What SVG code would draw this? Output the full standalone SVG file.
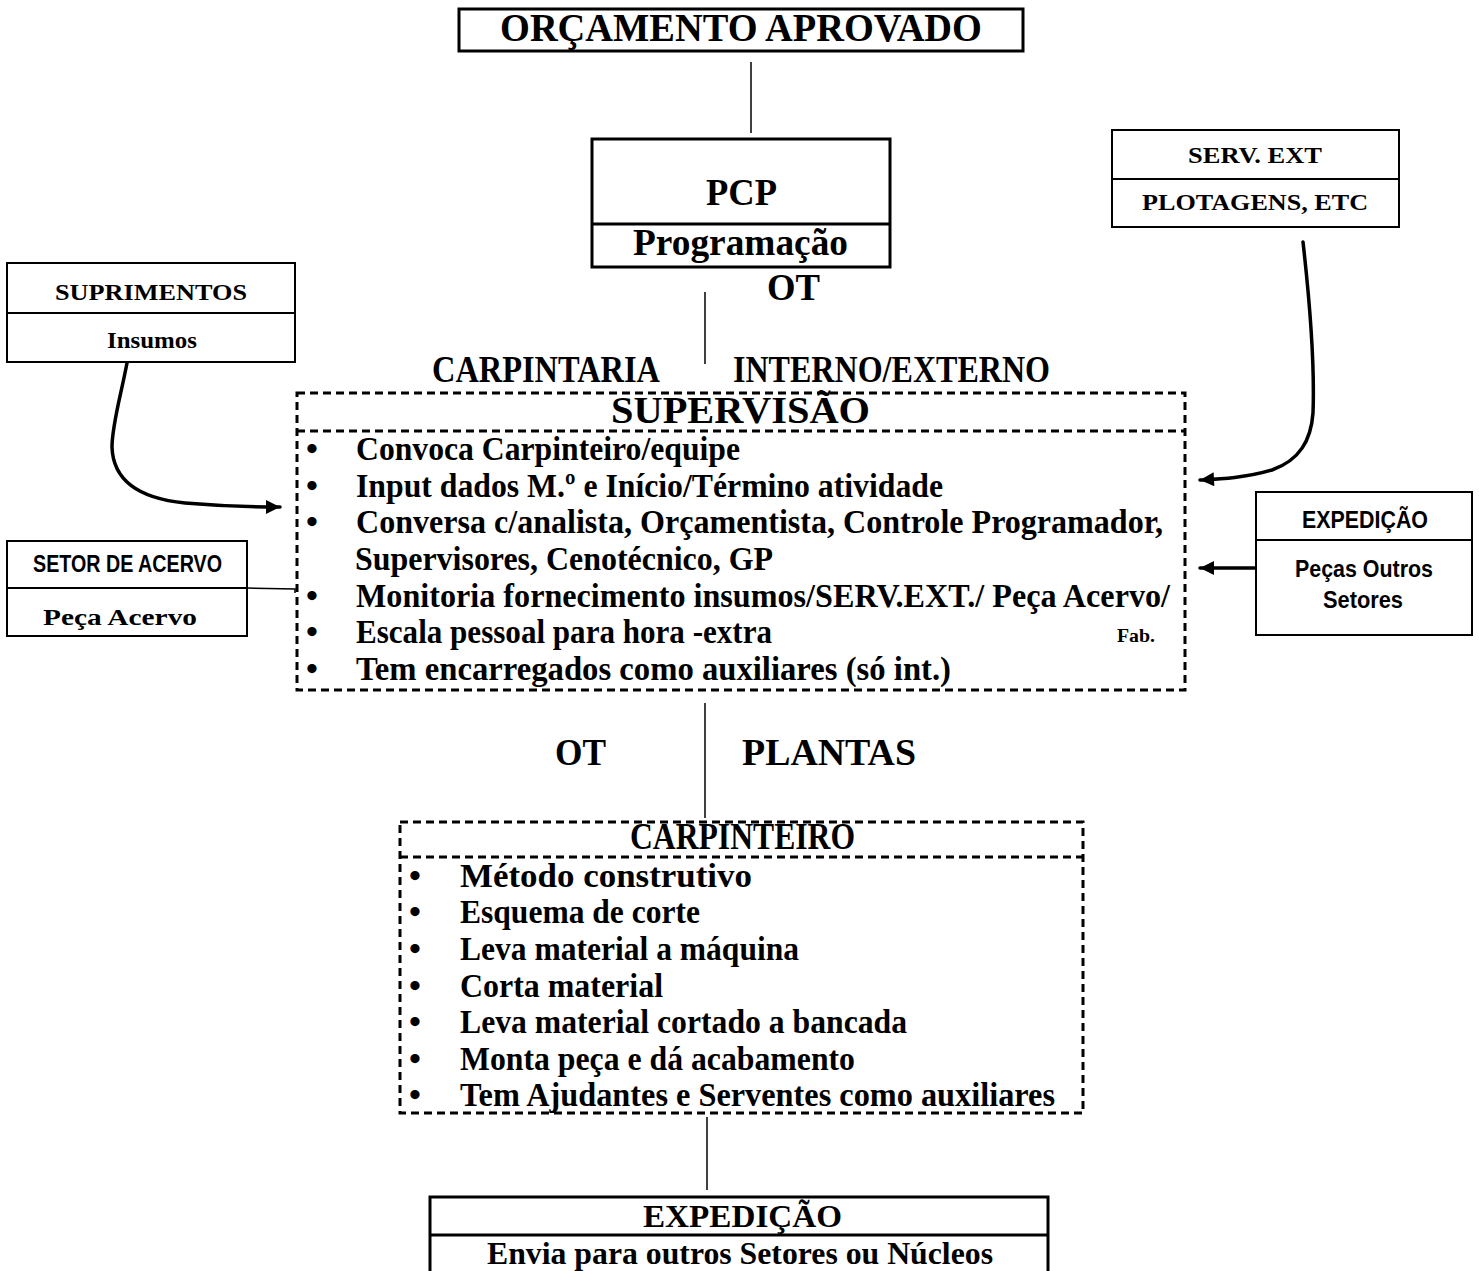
<svg xmlns="http://www.w3.org/2000/svg" width="1479" height="1271" viewBox="0 0 1479 1271">
  <style>
    .box { fill: #fff; stroke: #000; stroke-width: 3; }
    .thin { fill: #fff; stroke: #000; stroke-width: 2; }
    .div3 { stroke: #000; stroke-width: 3; }
    .div2 { stroke: #000; stroke-width: 2; }
    .dash { fill: none; stroke: #000; stroke-width: 3; stroke-dasharray: 8 5; }
    .link { fill: none; stroke: #000; stroke-width: 1.5; }
    .flow { fill: none; stroke: #000; stroke-width: 3.5; stroke-linecap: round; }
    .serif { font-family: "Liberation Serif", "Times New Roman", serif; font-weight: bold; fill: #000; }
    .sans { font-family: "Liberation Sans", Arial, sans-serif; font-weight: bold; fill: #000; }
    .h1 { font-size: 40px; }
    .h2 { font-size: 37px; }
    .h3 { font-size: 32px; }
    .item { font-size: 34px; }
    .small { font-size: 23px; }
    .tiny { font-size: 19px; }
  </style>
  <defs>
    <marker id="arrow" viewBox="0 0 10 10" refX="10" refY="5" markerWidth="5" markerHeight="4" markerUnits="strokeWidth" orient="auto">
      <path d="M0,0 L10,5 L0,10 z" fill="#000"/>
    </marker>
  </defs>

  <!-- connectors -->
  <g id="connectors">
    <line class="link" x1="751" y1="62" x2="751" y2="133"/>
    <line class="link" x1="705" y1="292" x2="705" y2="364"/>
    <line class="link" x1="705" y1="703" x2="705" y2="818"/>
    <line class="link" x1="707" y1="1117" x2="707" y2="1190"/>
    <path class="link" d="M247,588 L295,589 L295,593"/>
    <path class="flow" d="M127,363 C121,395 112,425 112,447 C113,478 135,498 185,503 C220,506 250,507 280,507" marker-end="url(#arrow)"/>
    <path class="flow" d="M1303,242 C1309,295 1315,360 1313,413 C1311,440 1300,460 1272,470 C1245,478 1220,479 1200,480" marker-end="url(#arrow)"/>
    <path class="flow" d="M1255,568 L1200,568" stroke-width="3" marker-end="url(#arrow)"/>
  </g>

  <!-- ORÇAMENTO APROVADO -->
  <g id="orcamento">
    <rect class="box" x="459" y="9" width="564" height="42"/>
    <text class="serif h1" x="500" y="41" textLength="482" lengthAdjust="spacingAndGlyphs">ORÇAMENTO APROVADO</text>
  </g>

  <!-- PCP -->
  <g id="pcp">
    <rect class="box" x="592" y="139" width="298" height="128"/>
    <line class="div3" x1="592" y1="224" x2="890" y2="224"/>
    <text class="serif h2" x="706" y="205" textLength="71" lengthAdjust="spacingAndGlyphs">PCP</text>
    <text class="serif h2" x="633" y="255" textLength="215" lengthAdjust="spacingAndGlyphs">Programação</text>
    <text class="serif h2" x="767" y="300" textLength="53" lengthAdjust="spacingAndGlyphs">OT</text>
  </g>

  <!-- SERV. EXT -->
  <g id="serv-ext">
    <rect class="thin" x="1112" y="130" width="287" height="97"/>
    <line class="div2" x1="1112" y1="179" x2="1399" y2="179"/>
    <text class="serif small" x="1188" y="163" textLength="134" lengthAdjust="spacingAndGlyphs">SERV. EXT</text>
    <text class="serif small" x="1142" y="210" textLength="226" lengthAdjust="spacingAndGlyphs">PLOTAGENS, ETC</text>
  </g>

  <!-- SUPRIMENTOS -->
  <g id="suprimentos">
    <rect class="thin" x="7" y="263" width="288" height="99"/>
    <line class="div2" x1="7" y1="313" x2="295" y2="313"/>
    <text class="serif small" x="55" y="300" textLength="192" lengthAdjust="spacingAndGlyphs">SUPRIMENTOS</text>
    <text class="serif small" x="107" y="348" textLength="90" lengthAdjust="spacingAndGlyphs">Insumos</text>
  </g>

  <!-- SETOR DE ACERVO -->
  <g id="setor-acervo">
    <rect class="thin" x="7" y="541" width="240" height="95"/>
    <line class="div2" x1="7" y1="588" x2="247" y2="588"/>
    <text class="sans small" x="33" y="572" textLength="189" lengthAdjust="spacingAndGlyphs">SETOR DE ACERVO</text>
    <text class="serif small" x="43" y="625" textLength="154" lengthAdjust="spacingAndGlyphs">Peça Acervo</text>
  </g>

  <!-- EXPEDIÇÃO (peças de outros setores) -->
  <g id="expedicao-pecas">
    <rect class="thin" x="1256" y="492" width="216" height="143"/>
    <line class="div2" x1="1256" y1="540" x2="1472" y2="540"/>
    <text class="sans small" x="1302" y="528" textLength="126" lengthAdjust="spacingAndGlyphs">EXPEDIÇÃO</text>
    <text class="sans small" x="1295" y="577" textLength="138" lengthAdjust="spacingAndGlyphs">Peças Outros</text>
    <text class="sans small" x="1323" y="608" textLength="80" lengthAdjust="spacingAndGlyphs">Setores</text>
  </g>

  <!-- SUPERVISÃO -->
  <g id="supervisao">
    <text class="serif h2" x="432" y="382" textLength="228" lengthAdjust="spacingAndGlyphs">CARPINTARIA</text>
    <text class="serif h2" x="733" y="382" textLength="317" lengthAdjust="spacingAndGlyphs">INTERNO/EXTERNO</text>
    <rect class="dash" x="297" y="393" width="888" height="297"/>
    <line class="dash" x1="297" y1="431" x2="1185" y2="431"/>
    <text class="serif h2" x="611" y="423" textLength="259" lengthAdjust="spacingAndGlyphs">SUPERVISÃO</text>
    <g class="serif item">
      <text x="306" y="460">•</text>
      <text x="356" y="460" textLength="384" lengthAdjust="spacingAndGlyphs">Convoca Carpinteiro/equipe</text>
      <text x="306" y="497">•</text>
      <text x="356" y="497" textLength="587" lengthAdjust="spacingAndGlyphs">Input dados M.º e Início/Término atividade</text>
      <text x="306" y="533">•</text>
      <text x="356" y="533" textLength="807" lengthAdjust="spacingAndGlyphs">Conversa c/analista, Orçamentista, Controle Programador,</text>
      <text x="355" y="570" textLength="418" lengthAdjust="spacingAndGlyphs">Supervisores, Cenotécnico, GP</text>
      <text x="306" y="607">•</text>
      <text x="356" y="607" textLength="814" lengthAdjust="spacingAndGlyphs">Monitoria fornecimento insumos/SERV.EXT./ Peça Acervo/</text>
      <text x="306" y="643">•</text>
      <text x="356" y="643" textLength="416" lengthAdjust="spacingAndGlyphs">Escala pessoal para hora -extra</text>
      <text x="306" y="680">•</text>
      <text x="356" y="680" textLength="595" lengthAdjust="spacingAndGlyphs">Tem encarregados como auxiliares (só int.)</text>
    </g>
    <text class="serif tiny" x="1117" y="642" textLength="38" lengthAdjust="spacingAndGlyphs">Fab.</text>
  </g>

  <!-- OT / PLANTAS -->
  <g id="ot-plantas">
    <text class="serif h2" x="555" y="765" textLength="51" lengthAdjust="spacingAndGlyphs">OT</text>
    <text class="serif h2" x="742" y="765" textLength="174" lengthAdjust="spacingAndGlyphs">PLANTAS</text>
  </g>

  <!-- CARPINTEIRO -->
  <g id="carpinteiro">
    <rect class="dash" x="400" y="822" width="683" height="291"/>
    <line class="dash" x1="400" y1="857" x2="1083" y2="857"/>
    <text class="serif h2" x="630" y="849" textLength="225" lengthAdjust="spacingAndGlyphs">CARPINTEIRO</text>
    <g class="serif item">
      <text x="409" y="887">•</text>
      <text x="460" y="887" textLength="292" lengthAdjust="spacingAndGlyphs">Método construtivo</text>
      <text x="409" y="923">•</text>
      <text x="460" y="923" textLength="240" lengthAdjust="spacingAndGlyphs">Esquema de corte</text>
      <text x="409" y="960">•</text>
      <text x="460" y="960" textLength="339" lengthAdjust="spacingAndGlyphs">Leva material a máquina</text>
      <text x="409" y="997">•</text>
      <text x="460" y="997" textLength="203" lengthAdjust="spacingAndGlyphs">Corta material</text>
      <text x="409" y="1033">•</text>
      <text x="460" y="1033" textLength="447" lengthAdjust="spacingAndGlyphs">Leva material cortado a bancada</text>
      <text x="409" y="1070">•</text>
      <text x="460" y="1070" textLength="395" lengthAdjust="spacingAndGlyphs">Monta peça e dá acabamento</text>
      <text x="409" y="1106">•</text>
      <text x="460" y="1106" textLength="595" lengthAdjust="spacingAndGlyphs">Tem Ajudantes e Serventes como auxiliares</text>
    </g>
  </g>

  <!-- EXPEDIÇÃO (envio) -->
  <g id="expedicao-envio">
    <rect class="box" x="430" y="1197" width="618" height="90"/>
    <line class="div3" x1="430" y1="1235" x2="1048" y2="1235"/>
    <text class="serif h3" x="643" y="1227" textLength="199" lengthAdjust="spacingAndGlyphs">EXPEDIÇÃO</text>
    <text class="serif h3" x="487" y="1264" textLength="506" lengthAdjust="spacingAndGlyphs">Envia para outros Setores ou Núcleos</text>
  </g>
</svg>
